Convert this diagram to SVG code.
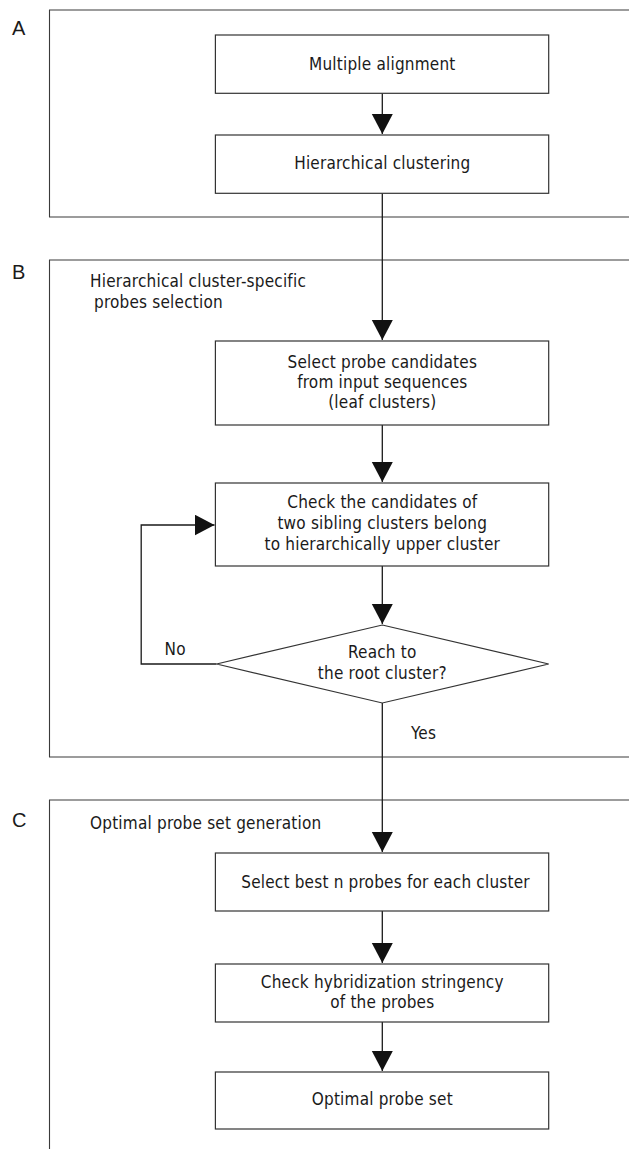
<svg xmlns="http://www.w3.org/2000/svg" width="629" height="1149" viewBox="0 0 629 1149">
<style>
  .frame { fill: none; stroke: #3a3a3a; stroke-width: 1.1; }
  .box { fill: #ffffff; stroke: #333333; stroke-width: 1.2; }
  .conn { fill: none; stroke: #1a1a1a; stroke-width: 1.3; }
  .t { font-family: "DejaVu Sans Condensed", "DejaVu Sans", sans-serif; font-stretch: condensed; font-size: 17px; letter-spacing: 0.2px; fill: #1a1a1a; }
  .c { text-anchor: middle; }
  .lbl { font-family: "Liberation Sans", Arial, sans-serif; font-size: 20px; fill: #1a1a1a; }
</style>
<defs>
  <marker id="arr" markerUnits="userSpaceOnUse" markerWidth="21" markerHeight="22" refX="20" refY="10.5" orient="auto" viewBox="0 0 21 22">
    <path d="M0,0 L20,10.5 L0,21 z" fill="#111111"/>
  </marker>
</defs>
<rect width="629" height="1149" fill="#ffffff"/>

<g id="panel-A">
  <path class="frame" d="M629,10 H49.5 V217 H629"/>
  <text class="lbl" x="12" y="35">A</text>
</g>
<g id="panel-B">
  <path class="frame" d="M629,260 H49.5 V757 H629"/>
  <text class="lbl" x="12" y="278.5">B</text>
  <text class="t" x="90" y="287">Hierarchical cluster-specific</text>
  <text class="t" x="94" y="308">probes selection</text>
</g>
<g id="panel-C">
  <path class="frame" d="M629,800 H49.5 V1149"/>
  <text class="lbl" x="12" y="827">C</text>
  <text class="t" x="90" y="829">Optimal probe set generation</text>
</g>

<g id="connectors">
  <path class="conn" d="M382.3,93.3 V134" marker-end="url(#arr)"/>
  <path class="conn" d="M382.3,193.3 V340" marker-end="url(#arr)"/>
  <path class="conn" d="M382.3,425 V482" marker-end="url(#arr)"/>
  <path class="conn" d="M382.3,566 V624" marker-end="url(#arr)"/>
  <path class="conn" d="M216.6,664 H141.2 V525 H214.5" marker-end="url(#arr)"/>
  <path class="conn" d="M382.3,703 V852" marker-end="url(#arr)"/>
  <path class="conn" d="M382.3,911 V963" marker-end="url(#arr)"/>
  <path class="conn" d="M382.3,1022 V1071" marker-end="url(#arr)"/>
  <text class="t" x="164.5" y="655">No</text>
  <text class="t" x="411" y="739">Yes</text>
</g>

<g id="node-multiple-alignment">
  <rect class="box" x="215.4" y="35" width="333.3" height="58.3"/>
  <text class="t c" x="382.3" y="70">Multiple alignment</text>
</g>
<g id="node-hierarchical-clustering">
  <rect class="box" x="215.4" y="135" width="333.3" height="58.3"/>
  <text class="t c" x="382.3" y="169">Hierarchical clustering</text>
</g>
<g id="node-select-candidates">
  <rect class="box" x="215.4" y="341" width="333.3" height="84"/>
  <text class="t c" x="382.3" y="368">Select probe candidates</text>
  <text class="t c" x="382.3" y="388">from input sequences</text>
  <text class="t c" x="382.3" y="408">(leaf clusters)</text>
</g>
<g id="node-check-candidates">
  <rect class="box" x="215.4" y="483" width="333.3" height="83"/>
  <text class="t c" x="382.3" y="508">Check the candidates of</text>
  <text class="t c" x="382.3" y="529">two sibling clusters belong</text>
  <text class="t c" x="382.3" y="550">to hierarchically upper cluster</text>
</g>
<g id="node-reach-root">
  <polygon class="box" points="382.3,625 548.7,664 382.3,703 216.6,664"/>
  <text class="t c" x="382.3" y="658">Reach to</text>
  <text class="t c" x="382.3" y="679">the root cluster?</text>
</g>
<g id="node-select-best">
  <rect class="box" x="215.4" y="853" width="333.3" height="58"/>
  <text class="t c" x="385.5" y="888">Select best n probes for each cluster</text>
</g>
<g id="node-check-hybridization">
  <rect class="box" x="215.4" y="964" width="333.3" height="58"/>
  <text class="t c" x="382.3" y="988">Check hybridization stringency</text>
  <text class="t c" x="382.3" y="1008">of the probes</text>
</g>
<g id="node-optimal-set">
  <rect class="box" x="215.4" y="1072" width="333.3" height="57"/>
  <text class="t c" x="382.3" y="1105">Optimal probe set</text>
</g>
</svg>
